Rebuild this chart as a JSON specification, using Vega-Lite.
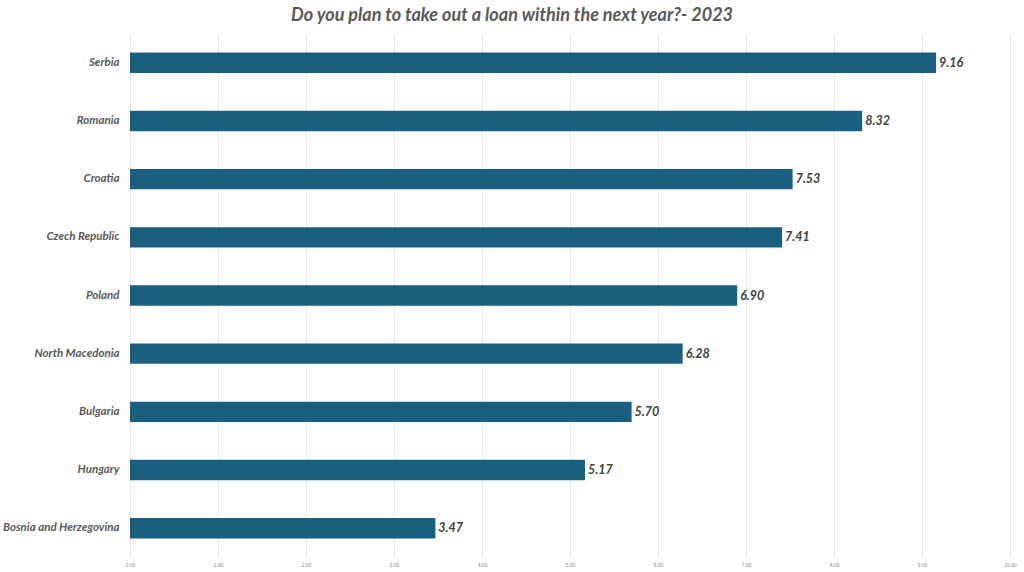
{
  "$schema": "https://vega.github.io/schema/vega-lite/v6.json",
  "autosize": {"type": "none"},
  "width": 880,
  "height": 523,
  "padding": {"left": 130, "top": 34, "right": 14, "bottom": 15},
  "background": "white",
  "title": {
    "text": "Do you plan to take out a loan within the next year?- 2023",
    "font": "Lato",
    "fontSize": 18,
    "fontWeight": "bold",
    "fontStyle": "italic",
    "color": "#595959",
    "anchor": "middle",
    "dx": -58,
    "offset": 9
  },
  "data": {
    "values": [
      {"country": "Serbia", "value": 9.16},
      {"country": "Romania", "value": 8.32},
      {"country": "Croatia", "value": 7.53},
      {"country": "Czech Republic", "value": 7.41},
      {"country": "Poland", "value": 6.90},
      {"country": "North Macedonia", "value": 6.28},
      {"country": "Bulgaria", "value": 5.70},
      {"country": "Hungary", "value": 5.17},
      {"country": "Bosnia and Herzegovina", "value": 3.47}
    ]
  },
  "encoding": {
    "y": {
      "field": "country",
      "type": "nominal",
      "sort": null,
      "scale": {"paddingInner": 0.65, "paddingOuter": 0.32},
      "axis": {
        "title": null,
        "domain": false,
        "ticks": false,
        "labelFont": "Lato",
        "labelFontSize": 11.5,
        "labelFontWeight": "bold",
        "labelFontStyle": "italic",
        "labelColor": "#595959",
        "labelPadding": 11
      }
    },
    "x": {
      "field": "value",
      "type": "quantitative",
      "scale": {"domain": [0, 10]},
      "axis": {
        "title": null,
        "format": ".2f",
        "tickCount": 10,
        "domain": false,
        "ticks": false,
        "grid": true,
        "gridColor": "#e8e8e8",
        "labelFlush": false,
        "labelFontSize": 5,
        "labelColor": "#888888",
        "labelPadding": 5
      }
    }
  },
  "layer": [
    {"mark": {"type": "bar", "color": "#1a5f80"}},
    {
      "mark": {
        "type": "text",
        "align": "left",
        "dx": 3,
        "font": "Lato",
        "fontSize": 12.5,
        "fontWeight": "bold",
        "fontStyle": "italic",
        "color": "#404040"
      },
      "encoding": {"text": {"field": "value", "type": "quantitative", "format": ".2f"}}
    }
  ],
  "config": {"view": {"stroke": null}}
}
